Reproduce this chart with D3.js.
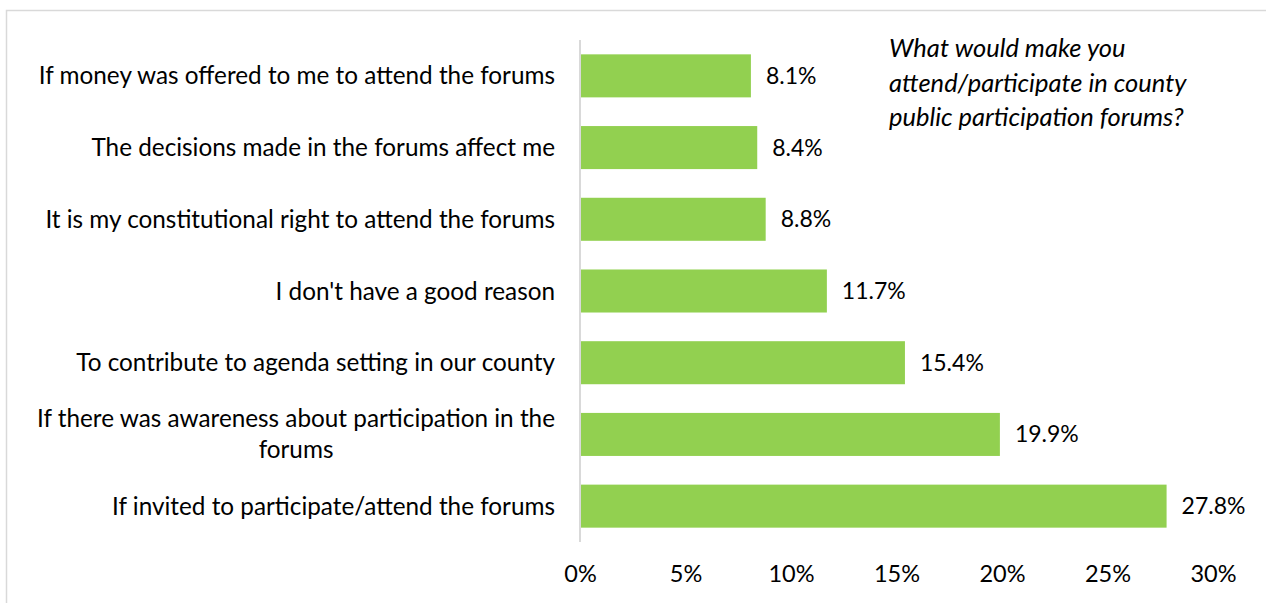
<!DOCTYPE html>
<html>
<head>
<meta charset="utf-8">
<script src="https://cdn.jsdelivr.net/npm/d3@7"></script>
<style>
  html, body { margin: 0; padding: 0; background: #fff; }
  svg { display: block; }
  text { font-family: Lato, "Open Sans", sans-serif; fill: #000; }
</style>
</head>
<body>
<svg id="chart" width="1266" height="603"></svg>
<script>
// Reasons that would make respondents attend county forums (top to bottom)
const categories = [
  "If money was offered to me to attend the forums",
  "The decisions made in the forums affect me",
  "It is my constitutional right to attend the forums",
  "I don't have a good reason",
  "To contribute to agenda setting in our county",
  ["If there was awareness about participation in the", "forums"],
  "If invited to participate/attend the forums"
];
const values = [8.1, 8.4, 8.8, 11.7, 15.4, 19.9, 27.8];
const tickValues = [0, 5, 10, 15, 20, 25, 30];
const titleLines = [
  "What would make you",
  "attend/participate in county",
  "public participation forums?"
];

const svg = d3.select("#chart");
const W = 1266, H = 603;

// outer frame
svg.append("rect")
  .attr("x", 6.5).attr("y", 10.5)
  .attr("width", W).attr("height", H)
  .attr("fill", "none").attr("stroke", "#d9d9d9").attr("stroke-width", 1.5);

const x = d3.scaleLinear().domain([0, 30]).range([580, 1213]);
const y = d3.scaleBand()
  .domain(d3.range(categories.length))
  .range([40, 542])
  .paddingInner(0.4).paddingOuter(0.2);

// bars
svg.append("g").selectAll("rect")
  .data(values)
  .join("rect")
  .attr("x", x(0))
  .attr("y", (d, i) => y(i))
  .attr("width", d => x(d) - x(0))
  .attr("height", y.bandwidth())
  .attr("fill", "#92D050");

// vertical category axis line
svg.append("line")
  .attr("x1", x(0)).attr("x2", x(0))
  .attr("y1", 40).attr("y2", 542)
  .attr("stroke", "#d9d9d9").attr("stroke-width", 2);

// value labels
svg.append("g").selectAll("text")
  .data(values)
  .join("text")
  .attr("x", d => x(d) + 15)
  .attr("y", (d, i) => y(i) + y.bandwidth() / 2)
  .attr("dy", "0.35em")
  .attr("font-size", 23)
  .text(d => d.toFixed(1) + "%");

// category labels, right aligned; wrapped labels are centered as a block
const labelRight = 555;
const lineH = 31;
const catG = svg.append("g");
categories.forEach((c, i) => {
  const lines = Array.isArray(c) ? c : [c];
  const cy = y(i) + y.bandwidth() / 2;
  const t = catG.append("text").attr("font-size", 24.3);
  lines.forEach((ln, k) => {
    t.append("tspan")
      .attr("y", cy + (k - (lines.length - 1) / 2) * lineH)
      .attr("dy", "0.35em")
      .text(ln);
  });
  if (lines.length === 1) {
    t.attr("text-anchor", "end").selectAll("tspan").attr("x", labelRight);
  } else {
    t.attr("text-anchor", "start").selectAll("tspan").attr("x", 0);
    const widths = t.selectAll("tspan").nodes().map(n => n.getComputedTextLength());
    const maxW = d3.max(widths);
    const cx = labelRight - maxW / 2;
    t.attr("text-anchor", "middle").selectAll("tspan").attr("x", cx);
  }
});

// x axis tick labels
const xAxis = d3.axisBottom(x)
  .tickValues(tickValues)
  .tickFormat(d => d + "%")
  .tickSize(0)
  .tickPadding(0);
const ax = svg.append("g")
  .attr("transform", "translate(0,565)")
  .call(xAxis);
ax.select(".domain").remove();
ax.selectAll("text")
  .attr("font-size", 23.5)
  .attr("font-family", "Lato, 'Open Sans', sans-serif")
  .attr("fill", "#000");

// chart title (italic, upper right)
svg.append("text")
  .attr("font-size", 25.5)
  .attr("font-style", "italic")
  .selectAll("tspan")
  .data(titleLines)
  .join("tspan")
  .attr("x", 889)
  .attr("y", (d, i) => 57 + i * 34.5)
  .text(d => d);
</script>
</body>
</html>
